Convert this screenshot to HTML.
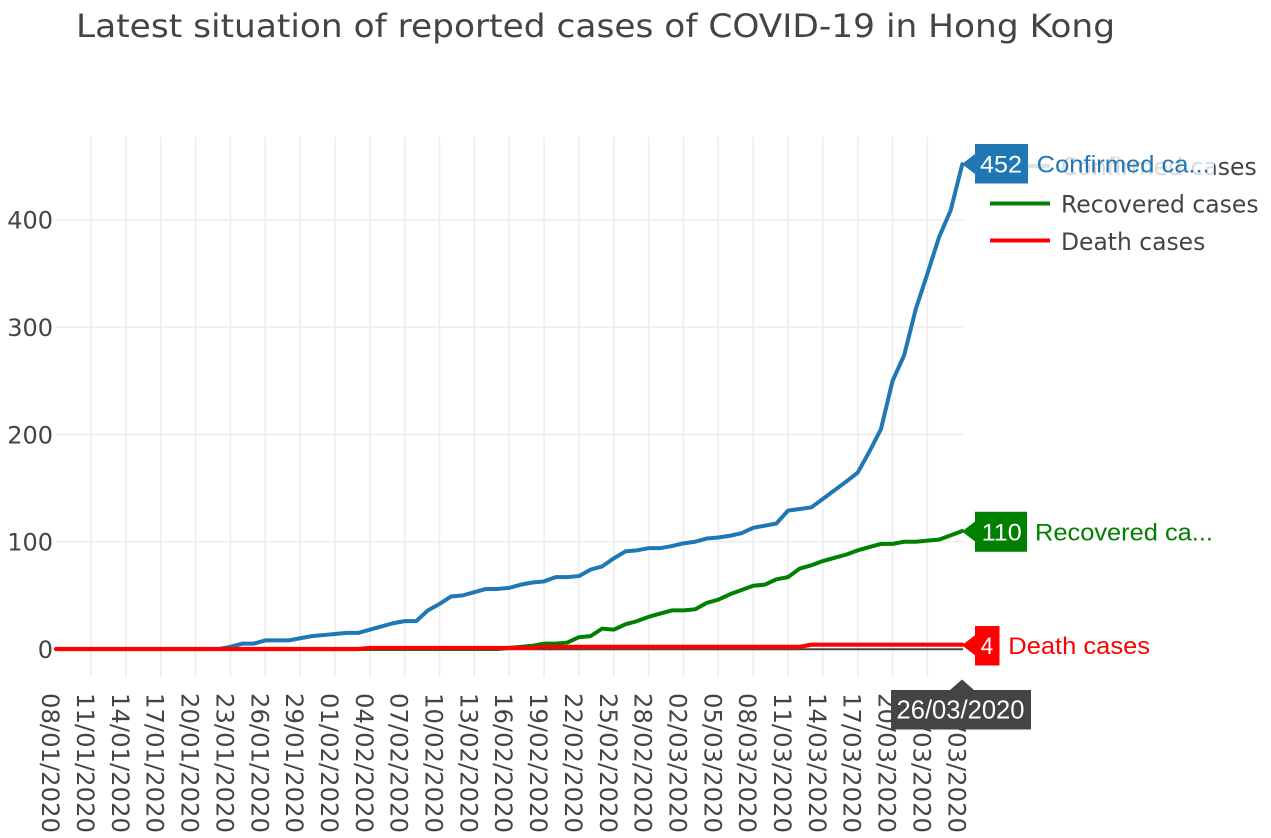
<!DOCTYPE html>
<html><head><meta charset="utf-8">
<style>
html,body{margin:0;padding:0;background:#fff;width:1271px;height:838px;overflow:hidden;}
svg{display:block;}
.tk{font-family:"DejaVu Sans","Liberation Sans",sans-serif;font-size:24px;fill:#444;}
.hv{font-family:"Liberation Sans",Arial,sans-serif;font-size:24px;}
</style></head>
<body>
<svg width="1271" height="838" viewBox="0 0 1271 838" xmlns="http://www.w3.org/2000/svg">
<rect x="0" y="0" width="1271" height="838" fill="#fff"/>
<!-- title -->
<text x="76" y="37" class="tk" style="font-size:32px" textLength="1039" lengthAdjust="spacingAndGlyphs">Latest situation of reported cases of COVID-19 in Hong Kong</text>

<!-- vertical grid -->
<g stroke="#ececec" stroke-width="1.5">
<line x1="91" y1="137" x2="91" y2="677"/>
<line x1="125.85" y1="137" x2="125.85" y2="677"/>
<line x1="160.7" y1="137" x2="160.7" y2="677"/>
<line x1="195.55" y1="137" x2="195.55" y2="677"/>
<line x1="230.4" y1="137" x2="230.4" y2="677"/>
<line x1="265.25" y1="137" x2="265.25" y2="677"/>
<line x1="300.1" y1="137" x2="300.1" y2="677"/>
<line x1="334.95" y1="137" x2="334.95" y2="677"/>
<line x1="369.8" y1="137" x2="369.8" y2="677"/>
<line x1="404.65" y1="137" x2="404.65" y2="677"/>
<line x1="439.5" y1="137" x2="439.5" y2="677"/>
<line x1="474.35" y1="137" x2="474.35" y2="677"/>
<line x1="509.2" y1="137" x2="509.2" y2="677"/>
<line x1="544.05" y1="137" x2="544.05" y2="677"/>
<line x1="578.9" y1="137" x2="578.9" y2="677"/>
<line x1="613.75" y1="137" x2="613.75" y2="677"/>
<line x1="648.6" y1="137" x2="648.6" y2="677"/>
<line x1="683.45" y1="137" x2="683.45" y2="677"/>
<line x1="718.3" y1="137" x2="718.3" y2="677"/>
<line x1="753.15" y1="137" x2="753.15" y2="677"/>
<line x1="788" y1="137" x2="788" y2="677"/>
<line x1="822.85" y1="137" x2="822.85" y2="677"/>
<line x1="857.7" y1="137" x2="857.7" y2="677"/>
<line x1="892.55" y1="137" x2="892.55" y2="677"/>
<line x1="927.4" y1="137" x2="927.4" y2="677"/>
</g>
<!-- horizontal grid -->
<g stroke="#ececec" stroke-width="1.5">
<line x1="56" y1="541.75" x2="963" y2="541.75"/>
<line x1="56" y1="434.5" x2="963" y2="434.5"/>
<line x1="56" y1="327.25" x2="963" y2="327.25"/>
<line x1="56" y1="220" x2="963" y2="220"/>
</g>
<!-- zero line -->
<line x1="56" y1="649.3" x2="963" y2="649.3" stroke="#444" stroke-width="2"/>

<!-- y tick labels -->
<g class="tk" text-anchor="end">
<text x="53" y="658">0</text>
<text x="53" y="550.5">100</text>
<text x="53" y="443.3">200</text>
<text x="53" y="336">300</text>
<text x="53" y="228.5">400</text>
</g>

<!-- x tick labels -->
<g class="tk">
<text transform="translate(42.15,693) rotate(90)" textLength="140" lengthAdjust="spacingAndGlyphs">08/01/2020</text>
<text transform="translate(77,693) rotate(90)" textLength="140" lengthAdjust="spacingAndGlyphs">11/01/2020</text>
<text transform="translate(111.85,693) rotate(90)" textLength="140" lengthAdjust="spacingAndGlyphs">14/01/2020</text>
<text transform="translate(146.7,693) rotate(90)" textLength="140" lengthAdjust="spacingAndGlyphs">17/01/2020</text>
<text transform="translate(181.55,693) rotate(90)" textLength="140" lengthAdjust="spacingAndGlyphs">20/01/2020</text>
<text transform="translate(216.4,693) rotate(90)" textLength="140" lengthAdjust="spacingAndGlyphs">23/01/2020</text>
<text transform="translate(251.25,693) rotate(90)" textLength="140" lengthAdjust="spacingAndGlyphs">26/01/2020</text>
<text transform="translate(286.1,693) rotate(90)" textLength="140" lengthAdjust="spacingAndGlyphs">29/01/2020</text>
<text transform="translate(320.95,693) rotate(90)" textLength="140" lengthAdjust="spacingAndGlyphs">01/02/2020</text>
<text transform="translate(355.8,693) rotate(90)" textLength="140" lengthAdjust="spacingAndGlyphs">04/02/2020</text>
<text transform="translate(390.65,693) rotate(90)" textLength="140" lengthAdjust="spacingAndGlyphs">07/02/2020</text>
<text transform="translate(425.5,693) rotate(90)" textLength="140" lengthAdjust="spacingAndGlyphs">10/02/2020</text>
<text transform="translate(460.35,693) rotate(90)" textLength="140" lengthAdjust="spacingAndGlyphs">13/02/2020</text>
<text transform="translate(495.2,693) rotate(90)" textLength="140" lengthAdjust="spacingAndGlyphs">16/02/2020</text>
<text transform="translate(530.05,693) rotate(90)" textLength="140" lengthAdjust="spacingAndGlyphs">19/02/2020</text>
<text transform="translate(564.9,693) rotate(90)" textLength="140" lengthAdjust="spacingAndGlyphs">22/02/2020</text>
<text transform="translate(599.75,693) rotate(90)" textLength="140" lengthAdjust="spacingAndGlyphs">25/02/2020</text>
<text transform="translate(634.6,693) rotate(90)" textLength="140" lengthAdjust="spacingAndGlyphs">28/02/2020</text>
<text transform="translate(669.45,693) rotate(90)" textLength="140" lengthAdjust="spacingAndGlyphs">02/03/2020</text>
<text transform="translate(704.3,693) rotate(90)" textLength="140" lengthAdjust="spacingAndGlyphs">05/03/2020</text>
<text transform="translate(739.15,693) rotate(90)" textLength="140" lengthAdjust="spacingAndGlyphs">08/03/2020</text>
<text transform="translate(774,693) rotate(90)" textLength="140" lengthAdjust="spacingAndGlyphs">11/03/2020</text>
<text transform="translate(808.85,693) rotate(90)" textLength="140" lengthAdjust="spacingAndGlyphs">14/03/2020</text>
<text transform="translate(843.7,693) rotate(90)" textLength="140" lengthAdjust="spacingAndGlyphs">17/03/2020</text>
<text transform="translate(878.55,693) rotate(90)" textLength="140" lengthAdjust="spacingAndGlyphs">20/03/2020</text>
<text transform="translate(913.4,693) rotate(90)" textLength="140" lengthAdjust="spacingAndGlyphs">23/03/2020</text>
<text transform="translate(948.25,693) rotate(90)" textLength="140" lengthAdjust="spacingAndGlyphs">26/03/2020</text>
</g>

<!-- traces -->
<g transform="translate(56.15,649) scale(11.617,-1.0725)" fill="none" stroke-linejoin="round" stroke-linecap="round">
<polyline vector-effect="non-scaling-stroke" stroke="#1f77b4" stroke-width="4" points="0,0 14,0 15,2 16,5 17,5 18,8 19,8 20,8 21,10 22,12 23,13 24,14 25,15 26,15 27,18 28,21 29,24 30,26 31,26 32,36 33,42 34,49 35,50 36,53 37,56 38,56 39,57 40,60 41,62 42,63 43,67 44,67 45,68 46,74 47,77 48,84.5 49,91 50,92 51,94 52,94 53,96 54,98.5 55,100 56,103 57,104 58,105.6 59,108 60,113 61,115 62,117 63,129 64,130.5 65,132 66,140 67,148 68,156 69,164.5 70,184 71,205 72,250 73,274 74,317 75,350 76,384 77,409 78,452"/>
<polyline vector-effect="non-scaling-stroke" stroke="#008000" stroke-width="4" points="0,0 38,0 39,1 40,2 41,3 42,5 43,5 44,6 45,11 46,12 47,19 48,18 49,23 50,26 51,30 52,33 53,36 54,36 55,37 56,43 57,46 58,51 59,55 60,59 61,60 62,65 63,67 64,75 65,78 66,82 67,85 68,88 69,92 70,95 71,98 72,98 73,100 74,100 75,101 76,102 77,106 78,110"/>
<polyline vector-effect="non-scaling-stroke" stroke="#ff0000" stroke-width="4.2" points="0,0 26,0 27,1 41,1 42,2 64,2 65,4 78,4"/>
</g>

<!-- legend -->
<g stroke-width="4">
<line x1="990" y1="166" x2="1050" y2="166" stroke="#1f77b4"/>
<line x1="990" y1="203.5" x2="1050" y2="203.5" stroke="#008000"/>
<line x1="990" y1="240.5" x2="1050" y2="240.5" stroke="#ff0000"/>
</g>
<g class="tk">
<text x="1061" y="175" textLength="195.7" lengthAdjust="spacingAndGlyphs">Confirmed cases</text>
<text x="1061" y="212.7" textLength="197.6" lengthAdjust="spacingAndGlyphs">Recovered cases</text>
<text x="1061" y="250" textLength="144.3" lengthAdjust="spacingAndGlyphs">Death cases</text>
</g>

<!-- hover labels -->
<rect x="1028" y="144" width="186" height="39.5" fill="#fff" fill-opacity="0.8"/>
<path d="M962,164 L975,154 V144 H1028 V183.5 H975 V174 Z" fill="#1f77b4"/>
<text x="980" y="172.5" class="hv" fill="#fff" textLength="42" lengthAdjust="spacingAndGlyphs">452</text>
<text x="1036.7" y="172.7" class="hv" fill="#1f77b4" textLength="173" lengthAdjust="spacingAndGlyphs">Confirmed ca...</text>

<path d="M962,531.5 L975,521.5 V511.7 H1027 V551.7 H975 V541.5 Z" fill="#008000"/>
<text x="981.7" y="540.7" class="hv" fill="#fff" textLength="40" lengthAdjust="spacingAndGlyphs">110</text>
<text x="1035" y="540.7" class="hv" fill="#008000" textLength="178" lengthAdjust="spacingAndGlyphs">Recovered ca...</text>

<path d="M962,645.3 L975,635.3 V626 H999.5 V665.5 H975 V655.3 Z" fill="#ff0000"/>
<text x="980.7" y="654" class="hv" fill="#fff" textLength="12.5" lengthAdjust="spacingAndGlyphs">4</text>
<text x="1008.3" y="654" class="hv" fill="#ff0000" textLength="141.7" lengthAdjust="spacingAndGlyphs">Death cases</text>

<!-- x hover label -->
<path d="M962,679.5 L974,690 H1031 V729.5 H891 V690 H950 Z" fill="#444"/>
<text x="960.5" y="718.7" class="hv" fill="#fff" text-anchor="middle" style="font-size:26px" textLength="128" lengthAdjust="spacingAndGlyphs">26/03/2020</text>
</svg>
</body></html>
